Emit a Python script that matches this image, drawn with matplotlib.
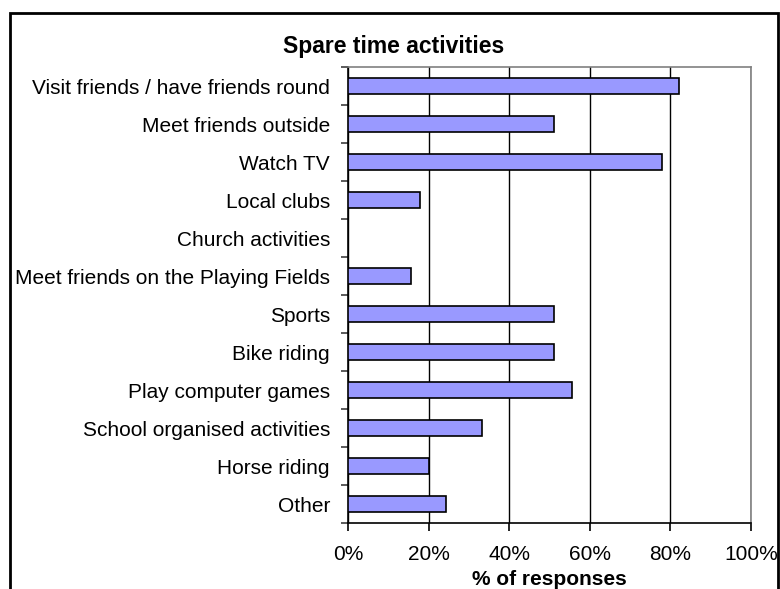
import numpy as np
import matplotlib
matplotlib.use("Agg")
import matplotlib.pyplot as plt
from matplotlib.patches import Rectangle
from matplotlib.ticker import FixedLocator, PercentFormatter

# Data (percent of responses)
activities = [
    "Visit friends / have friends round",
    "Meet friends outside",
    "Watch TV",
    "Local clubs",
    "Church activities",
    "Meet friends on the Playing Fields",
    "Sports",
    "Bike riding",
    "Play computer games",
    "School organised activities",
    "Horse riding",
    "Other",
]
responses = [82.2, 51.1, 77.8, 17.8, 0.0, 15.6, 51.1, 51.1, 55.6, 33.3, 20.0, 24.4]
x_ticks = [0, 20, 40, 60, 80, 100]

plt.rcParams["font.family"] = ["Liberation Sans", "DejaVu Sans"]

W, H = 780, 589
fig = plt.figure(figsize=(W / 100, H / 100), dpi=100)
ax = fig.add_axes([348 / W, 1 - 523 / H, (751 - 348) / W, (523 - 67) / H])

y = np.arange(len(activities))
ax.barh(y, responses, height=0.42, color="#9999FF", edgecolor="black", linewidth=1.2, zorder=3)

ax.set_xlim(0, 100)
ax.set_ylim(len(activities) - 0.5, -0.5)

# gridlines
ax.xaxis.grid(True, color="black", linewidth=1)
ax.set_axisbelow(True)

# spines
ax.spines["left"].set_color("black")
ax.spines["bottom"].set_color("black")
ax.spines["top"].set_color("#808080")
ax.spines["right"].set_color("#808080")
for s in ax.spines.values():
    s.set_linewidth(1.2)

# y ticks: labels at centres, tick marks between categories
ax.set_yticks(y)
ax.set_yticklabels(activities, fontsize=15)
ax.yaxis.set_minor_locator(FixedLocator(np.arange(-0.5, len(activities), 1)))
ax.tick_params(axis="y", which="major", length=0, pad=13)
ax.tick_params(axis="y", which="minor", length=5, width=1.2, color="#404040")

ax.set_xticks(x_ticks)
ax.xaxis.set_major_formatter(PercentFormatter(decimals=0))
ax.tick_params(axis="x", length=6, width=1.2, labelsize=15, pad=9.5)
ax.set_xlabel("% of responses", fontsize=15, fontweight="bold", labelpad=5)

fig.text(394 / W, 1 - 53 / H, "Spare time activities", fontsize=16.5, fontweight="bold",
         ha="center", va="baseline")

# chart border
fig.patches.append(Rectangle((10 / W, -0.1), (778 - 10) / W, 1.1 - 13 / H,
                             transform=fig.transFigure, fill=False,
                             edgecolor="black", linewidth=2))

fig.savefig("out.png", dpi=100)
